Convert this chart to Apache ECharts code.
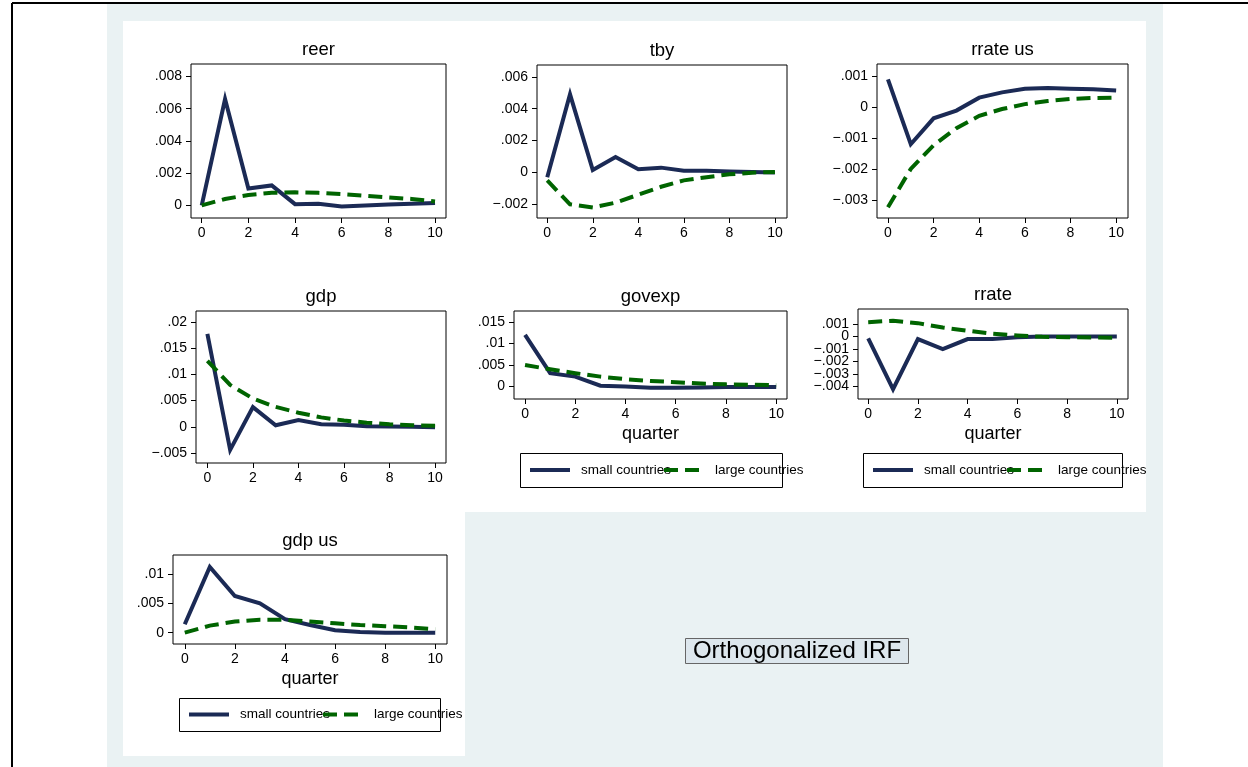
<!DOCTYPE html>
<html><head><meta charset="utf-8">
<script src="https://cdn.jsdelivr.net/npm/echarts@6/dist/echarts.min.js"></script>
<style>html,body{margin:0;padding:0;background:#fff}#c{width:1248px;height:767px}</style>
</head><body><div id="c"></div>
<script>
// ---------- data ----------
const quarters = [0,1,2,3,4,5,6,7,8,9,10];
const seriesNames = ['small countries', 'large countries'];
const panelTitles = ['reer', 'tby', 'rrate us', 'gdp', 'govexp', 'rrate', 'gdp us'];
const xAxisTitle = 'quarter';
const noteText = 'Orthogonalized IRF';

const reerSmall   = [0, 0.0066, 0.00105, 0.00124, 0.00008, 0.0001, -0.00006, 0.0, 0.00005, 0.0001, 0.00015];
const reerLarge   = [0, 0.0004, 0.00065, 0.00078, 0.00081, 0.00078, 0.0007, 0.0006, 0.0005, 0.0004, 0.00025];
const tbySmall    = [-0.0003, 0.0049, 0.00015, 0.00097, 0.0002, 0.0003, 0.0001, 0.0001, 0.00005, 0.00002, 0.0];
const tbyLarge    = [-0.0005, -0.002, -0.0022, -0.0019, -0.0014, -0.0009, -0.0005, -0.0003, -0.00012, -0.00002, 0.00003];
const rrateUsSmall= [0.0009, -0.0012, -0.00036, -0.00011, 0.00031, 0.00048, 0.0006, 0.00062, 0.0006, 0.00058, 0.00054];
const rrateUsLarge= [-0.00324, -0.002, -0.00123, -0.00068, -0.00028, -0.00006, 0.0001, 0.0002, 0.00027, 0.0003, 0.00031];
const gdpSmall    = [0.01775, -0.0044, 0.00376, 0.0003, 0.0013, 0.0005, 0.0004, 0.0001, 0.00005, 0.0, -0.0001];
const gdpLarge    = [0.0126, 0.008, 0.0054, 0.0038, 0.0027, 0.0018, 0.0012, 0.0008, 0.0005, 0.0003, 0.0002];
const govexpSmall = [0.012, 0.0031, 0.0023, 0.0002, 0.0, -0.0003, -0.0003, -0.0002, -0.0001, -0.0001, -0.0001];
const govexpLarge = [0.005, 0.004, 0.0031, 0.0023, 0.0017, 0.0013, 0.001, 0.0007, 0.0005, 0.0004, 0.0003];
const rrateSmall  = [-0.00015, -0.0042, -0.0002, -0.001, -0.0002, -0.0002, -0.00005, 0.0, 0.0, 0.0, 0.0];
const rrateLarge  = [0.00115, 0.00126, 0.00107, 0.00072, 0.00046, 0.00022, 0.00008, -0.00002, -0.00005, -0.00008, -0.0001];
const gdpUsSmall  = [0.00143, 0.0112, 0.00626, 0.005, 0.0023, 0.0013, 0.0004, 0.0001, 0.0, 0.0, 0.0];
const gdpUsLarge  = [0.0, 0.0012, 0.0019, 0.0022, 0.0022, 0.0019, 0.0016, 0.0013, 0.0011, 0.0009, 0.0006];

const xTicks       = [0, 2, 4, 6, 8, 10];
const reerTicks    = [0, 0.002, 0.004, 0.006, 0.008];
const tbyTicks     = [-0.002, 0, 0.002, 0.004, 0.006];
const rrateUsTicks = [-0.003, -0.002, -0.001, 0, 0.001];
const gdpTicks     = [-0.005, 0, 0.005, 0.01, 0.015, 0.02];
const govexpTicks  = [0, 0.005, 0.01, 0.015];
const rrateTicks   = [-0.004, -0.003, -0.002, -0.001, 0, 0.001];
const gdpUsTicks   = [0, 0.005, 0.01];

// ---------- layout ----------
const panels = [
  {title: panelTitles[0], small: reerSmall,    large: reerLarge,    ticks: reerTicks,    box: [191, 64, 446, 218], xr: [-0.46, 10.47], yr: [-0.00078, 0.00877]},
  {title: panelTitles[1], small: tbySmall,     large: tbyLarge,     ticks: tbyTicks,     box: [537, 65, 787, 218], xr: [-0.45, 10.53], yr: [-0.00286, 0.00674]},
  {title: panelTitles[2], small: rrateUsSmall, large: rrateUsLarge, ticks: rrateUsTicks, box: [877, 64, 1128, 218], xr: [-0.48, 10.52], yr: [-0.00359, 0.0014]},
  {title: panelTitles[3], small: gdpSmall,     large: gdpLarge,     ticks: gdpTicks,     box: [196, 311, 446, 463], xr: [-0.5, 10.48], yr: [-0.0069, 0.0221]},
  {title: panelTitles[4], small: govexpSmall,  large: govexpLarge,  ticks: govexpTicks,  box: [514, 311, 787, 399], xr: [-0.44, 10.43], yr: [-0.0029, 0.01754], quarter: true, legend: [520, 453, 782, 487]},
  {title: panelTitles[5], small: rrateSmall,   large: rrateLarge,   ticks: rrateTicks,   box: [858, 309, 1128, 399], xr: [-0.41, 10.45], yr: [-0.00499, 0.0022], quarter: true, legend: [863, 453, 1122, 487]},
  {title: panelTitles[6], small: gdpUsSmall,   large: gdpUsLarge,   ticks: gdpUsTicks,   box: [173, 555, 447, 644], xr: [-0.47, 10.47], yr: [-0.00193, 0.01324], quarter: true, legend: [179, 698, 440, 731]}
];

const FONT = '"Liberation Sans", Arial, Helvetica, sans-serif';
const NAVY = '#1b2a55';
const GREEN = '#006400';

function fmt(v) {
  if (Math.abs(v) < 1e-12) return '0';
  let s = String(Math.abs(v)).replace(/^0/, '');
  return (v < 0 ? '\u2212' : '') + s;
}

const grid = [], xAxis = [], yAxis = [], series = [], legend = [];
const graphic = [
  {type: 'rect', z: -10, shape: {x: 107, y: 4, width: 1056, height: 763}, style: {fill: '#eaf2f3'}},
  {type: 'rect', z: -9, shape: {x: 123, y: 21, width: 1023, height: 491}, style: {fill: '#fff'}},
  {type: 'rect', z: -9, shape: {x: 123, y: 511, width: 342, height: 245}, style: {fill: '#fff'}},
  {type: 'line', z: 5, shape: {x1: 12, y1: 3, x2: 1248, y2: 3}, style: {stroke: '#000', lineWidth: 2}},
  {type: 'line', z: 5, shape: {x1: 12, y1: 3, x2: 12, y2: 767}, style: {stroke: '#000', lineWidth: 2}},
  {type: 'rect', z: 5, shape: {x: 685.5, y: 638.5, width: 223, height: 25}, style: {fill: '#dde7ed', stroke: '#666', lineWidth: 1}},
  {type: 'text', z: 6, x: 797, y: 651.5, style: {text: noteText, font: '24px ' + FONT, fill: '#000', textAlign: 'center', textVerticalAlign: 'middle'}}
];

function yAxisFor(p, i, tickSet) {
  return {
    type: 'value', gridIndex: i, min: p.yr[0], max: p.yr[1], position: 'left', offset: 0,
    axisLine: {show: false, onZero: false}, splitLine: {show: false},
    axisTick: {show: true, length: 5, lineStyle: {color: '#000', width: 1}, customValues: tickSet},
    axisLabel: {color: '#000', fontSize: 14, fontFamily: FONT, margin: 9, hideOverlap: false,
      showMinLabel: true, showMaxLabel: true, customValues: tickSet, formatter: fmt}
  };
}

panels.forEach((p, i) => {
  const [l, t, r, b] = p.box;
  grid.push({left: l, top: t, width: r - l, height: b - t, show: true, backgroundColor: '#fff', borderColor: '#000', borderWidth: 1});
  xAxis.push({
    type: 'value', gridIndex: i, min: p.xr[0], max: p.xr[1], position: 'bottom',
    axisLine: {show: false, onZero: false}, splitLine: {show: false},
    axisTick: {show: true, length: 5, lineStyle: {color: '#000', width: 1}, customValues: xTicks},
    axisLabel: {color: '#000', fontSize: 14, fontFamily: FONT, margin: 8, hideOverlap: false,
      showMinLabel: true, showMaxLabel: true, customValues: xTicks, formatter: v => String(v)},
    name: p.quarter ? xAxisTitle : '', nameLocation: 'middle', nameGap: 26,
    nameTextStyle: {color: '#000', fontSize: 18, fontFamily: FONT}
  });
  // ticks split over two coincident axes so that tightly packed labels are never dropped
  yAxis.push(yAxisFor(p, i, p.ticks.filter((_, k) => k % 2 === 0)));
  yAxis.push(yAxisFor(p, i, p.ticks.filter((_, k) => k % 2 === 1)));
  const yi = 2 * i;
  series.push({
    name: seriesNames[0], type: 'line', xAxisIndex: i, yAxisIndex: yi, symbol: 'none',
    data: quarters.map((q, k) => [q, p.small[k]]),
    lineStyle: {color: NAVY, width: 4, join: 'miter', cap: 'butt'}, itemStyle: {color: NAVY}, z: 2
  });
  series.push({
    name: seriesNames[1], type: 'line', xAxisIndex: i, yAxisIndex: yi, symbol: 'none',
    data: quarters.map((q, k) => [q, p.large[k]]),
    lineStyle: {color: GREEN, width: 4, type: [14, 7], join: 'miter', cap: 'butt'}, itemStyle: {color: GREEN}, z: 3
  });
  graphic.push({type: 'text', z: 6, x: (l + r) / 2, y: t - 14,
    style: {text: p.title, font: '18.5px ' + FONT, fill: '#000', textAlign: 'center', textVerticalAlign: 'middle'}});
  if (p.legend) {
    const [bl, bt, br, bb] = p.legend;
    graphic.push({type: 'rect', z: 5, shape: {x: bl + 0.5, y: bt + 0.5, width: br - bl, height: bb - bt}, style: {fill: 'none', stroke: '#000', lineWidth: 1}});
    const L = bl + 8, cy = (bt + bb) / 2;
    [0, 1].forEach(k => {
      legend.push({
        data: [seriesNames[k]], left: L + k * 134, top: cy - 7, padding: 0,
        itemWidth: 40, itemHeight: 14, selectedMode: false,
        lineStyle: {width: 4},
        itemStyle: {opacity: 0},
        textStyle: {color: '#000', fontSize: 13.5, fontFamily: FONT, padding: [0, 0, 0, 6]}
      });
    });
  }
});

const chart = echarts.init(document.getElementById('c'), null, {renderer: 'canvas'});
chart.setOption({
  animation: false,
  backgroundColor: '#fff',
  grid, xAxis, yAxis, series, legend, graphic
});
</script>
</body></html>
